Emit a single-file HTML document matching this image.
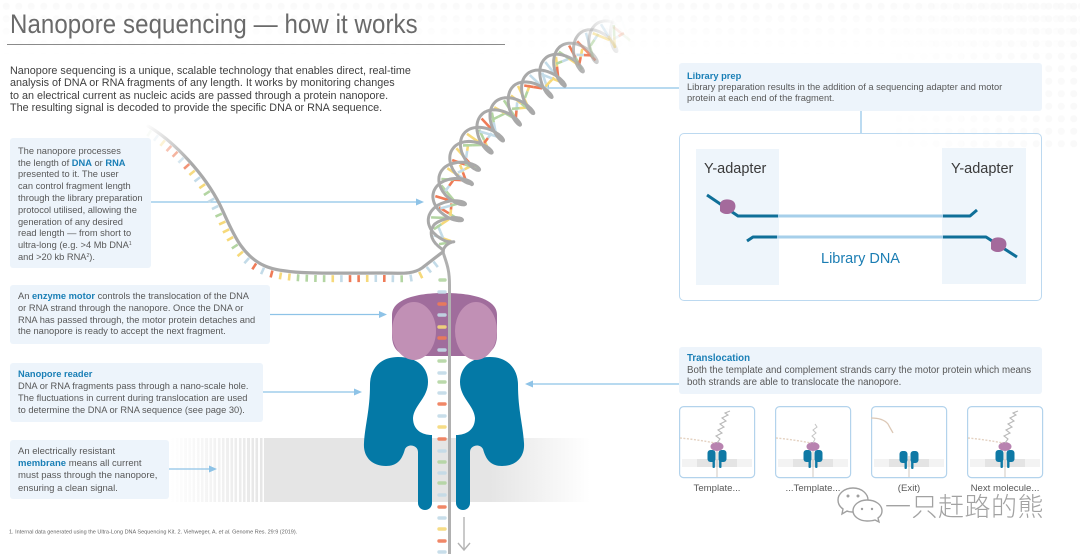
<!DOCTYPE html>
<html><head><meta charset="utf-8">
<style>
*{margin:0;padding:0;box-sizing:border-box}
html,body{width:1080px;height:554px;overflow:hidden;background:#fff}
body{position:relative;font-family:"Liberation Sans",Arial,sans-serif;color:#585858}
.abs{position:absolute}
.dots{background-image:radial-gradient(circle,#f5f5f5 3.2px,rgba(255,255,255,0) 3.8px);background-size:12.5px 12.5px}
.box{position:absolute;background:#edf4fb;border-radius:3px}
.t{position:absolute;white-space:nowrap}
.b{color:#1a7fb6;font-weight:bold}
sup{font-size:5px;line-height:0;vertical-align:3px}
</style></head><body>

<div class="abs dots" style="left:0;top:0;width:1080px;height:60px;-webkit-mask-image:linear-gradient(to bottom,rgba(0,0,0,.5),rgba(0,0,0,0));mask-image:linear-gradient(to bottom,rgba(0,0,0,.5),rgba(0,0,0,0))"></div>
<div class="abs dots" style="left:880px;top:0;width:200px;height:150px;-webkit-mask-image:linear-gradient(to left,rgba(0,0,0,.6),rgba(0,0,0,0));mask-image:linear-gradient(to left,rgba(0,0,0,.6),rgba(0,0,0,0))"></div>

<!-- title -->
<div class="t" style="left:10px;top:11px;font-size:27px;line-height:27px;color:#6a6a6a;transform:scaleX(0.89);transform-origin:left top;letter-spacing:0.1px">Nanopore sequencing — how it works</div>
<div class="abs" style="left:7px;top:44px;width:498px;height:1px;background:#8a8a8a"></div>

<div class="t" style="left:10px;top:65px;font-size:10.8px;line-height:12.3px;color:#3f3f3f">Nanopore sequencing is a unique, scalable technology that enables direct, real-time<br>analysis of DNA or RNA fragments of any length. It works by monitoring changes<br>to an electrical current as nucleic acids are passed through a protein nanopore.<br>The resulting signal is decoded to provide the specific DNA or RNA sequence.</div>

<!-- membrane band -->
<div class="abs" style="left:170px;top:438px;width:420px;height:64px;background:repeating-linear-gradient(90deg,rgba(255,255,255,.95) 0 1.6px,rgba(255,255,255,0) 1.6px 4.2px) 0 0/95px 100% no-repeat,linear-gradient(90deg,rgba(229,229,229,0) 0,#e5e5e5 95px,#e5e5e5 320px,rgba(229,229,229,0) 420px)"></div>

<!-- left boxes -->
<div class="box" style="left:10px;top:138px;width:141px;height:130px"></div>
<div class="t" style="left:18px;top:145.8px;font-size:9.3px;line-height:11.8px">The nanopore processes<br>the length of <span class="b">DNA</span> or <span class="b">RNA</span><br>presented to it. The user<br>can control fragment length<br>through the library preparation<br>protocol utilised, allowing the<br>generation of any desired<br>read length — from short to<br>ultra-long (e.g. &gt;4 Mb DNA<sup>1</sup><br>and &gt;20 kb RNA<sup>2</sup>).</div>

<div class="box" style="left:10px;top:285px;width:260px;height:59px"></div>
<div class="t" style="left:18px;top:291.2px;font-size:9.3px;line-height:11.7px">An <span class="b">enzyme motor</span> controls the translocation of the DNA<br>or RNA strand through the nanopore. Once the DNA or<br>RNA has passed through, the motor protein detaches and<br>the nanopore is ready to accept the next fragment.</div>

<div class="box" style="left:10px;top:363px;width:253px;height:59px"></div>
<div class="t" style="left:18px;top:368px;font-size:9.3px;line-height:12px"><span class="b">Nanopore reader</span><br>DNA or RNA fragments pass through a nano-scale hole.<br>The fluctuations in current during translocation are used<br>to determine the DNA or RNA sequence (see page 30).</div>

<div class="box" style="left:10px;top:440px;width:159px;height:59px"></div>
<div class="t" style="left:18px;top:445.9px;font-size:9.5px;line-height:12.2px">An electrically resistant<br><span class="b">membrane</span> means all current<br>must pass through the nanopore,<br>ensuring a clean signal.</div>

<div class="t" style="left:9px;top:529px;font-size:11px;line-height:12px;color:#666;transform:scale(0.5);transform-origin:left top">1. Internal data generated using the Ultra-Long DNA Sequencing Kit. 2. Viehweger, A. <i>et al.</i> Genome Res. 29:9 (2019).</div>

<!-- right boxes -->
<div class="box" style="left:679px;top:63px;width:363px;height:48px"></div>
<div class="t" style="left:687px;top:70.5px;font-size:9.3px;line-height:11px"><span class="b">Library prep</span><br>Library preparation results in the addition of a sequencing adapter and motor<br>protein at each end of the fragment.</div>

<div class="abs" style="left:679px;top:133px;width:363px;height:168px;border:1.5px solid #bcd9f0;border-radius:5px"></div>
<div class="abs" style="left:696px;top:149px;width:83px;height:136px;background:#eef5fb"></div>
<div class="abs" style="left:942px;top:148px;width:84px;height:136px;background:#eef5fb"></div>
<div class="t" style="left:704px;top:160px;font-size:14.5px;line-height:18px;color:#3a3a3a">Y-adapter</div>
<div class="t" style="left:951px;top:160px;font-size:14.5px;line-height:18px;color:#3a3a3a">Y-adapter</div>
<div class="t" style="left:821px;top:250px;font-size:14.5px;line-height:18px;color:#1b7db3">Library DNA</div>

<div class="box" style="left:679px;top:347px;width:363px;height:47px"></div>
<div class="t" style="left:687px;top:353px;font-size:9.7px;line-height:12px"><span class="b">Translocation</span><br>Both the template and complement strands carry the motor protein which means<br>both strands are able to translocate the nanopore.</div>

<div class="t" style="left:679px;top:483px;width:76px;text-align:center;font-size:9.6px;line-height:12px">Template...</div>
<div class="t" style="left:775px;top:483px;width:76px;text-align:center;font-size:9.6px;line-height:12px">...Template...</div>
<div class="t" style="left:871px;top:483px;width:76px;text-align:center;font-size:9.6px;line-height:12px">(Exit)</div>
<div class="t" style="left:963px;top:483px;width:84px;text-align:center;font-size:9.6px;line-height:12px">Next molecule...</div>

<svg class="abs" style="left:0;top:0" width="1080" height="554" viewBox="0 0 1080 554">
<defs>
<linearGradient id="tg" gradientUnits="userSpaceOnUse" x1="146" y1="124" x2="190" y2="165"><stop offset="0" stop-color="#a9a9a9" stop-opacity="0"/><stop offset="1" stop-color="#a9a9a9"/></linearGradient>
<linearGradient id="hg" gradientUnits="userSpaceOnUse" x1="565" y1="58" x2="620" y2="28"><stop offset="0" stop-color="#a9a9a9"/><stop offset="1" stop-color="#a9a9a9" stop-opacity="0"/></linearGradient>
</defs>

<!-- arrows -->
<g stroke="#8ec3e7" stroke-width="1.2" fill="none">
<line x1="151" y1="202" x2="417" y2="202"/>
<line x1="270" y1="314.5" x2="380" y2="314.5"/>
<line x1="263" y1="392" x2="355" y2="392"/>
<line x1="169" y1="469" x2="210" y2="469"/>
<line x1="679" y1="88" x2="548" y2="88"/>
<line x1="679" y1="384" x2="532" y2="384"/>
<line x1="861" y1="111" x2="861" y2="133"/>
</g>
<g fill="#8ec3e7">
<path d="M424 202 l-8 -3.5 v7z"/>
<path d="M387 314.5 l-8 -3.5 v7z"/>
<path d="M362 392 l-8 -3.5 v7z"/>
<path d="M217 469 l-8 -3.5 v7z"/>
<path d="M541 88 l8 -3.5 v7z"/>
<path d="M525 384 l8 -3.5 v7z"/>
</g>

<!-- dynamic under layer -->
<g id="under"></g>

<!-- pore (teal) -->
<g fill="#0479a6">
<path d="M398 357 C418 357 428 368 428 382 C428 398 414 405 413 418 C413 430 422 435 432 435 L432 503 A7 7 0 0 1 418 503 L418 452 C418 445 408 443 405 449 C402 460 397 466 386 466 C372 466 363 457 364 443 C365 425 370 410 370 385 C370 368 381 357 398 357 Z"/>
<path d="M398 357 C418 357 428 368 428 382 C428 398 414 405 413 418 C413 430 422 435 432 435 L432 503 A7 7 0 0 1 418 503 L418 452 C418 445 408 443 405 449 C402 460 397 466 386 466 C372 466 363 457 364 443 C365 425 370 410 370 385 C370 368 381 357 398 357 Z" transform="translate(888,0) scale(-1,1)"/>
</g>
<!-- motor protein -->
<path d="M392 315 C392 298 420 293 444 293 C470 293 497 298 497 315 L497 335 C497 350 488 356 475 356 L413 356 C400 356 392 350 392 335 Z" fill="#a06d9c"/>
<ellipse cx="414" cy="331" rx="22" ry="29" fill="#c190b5"/>
<ellipse cx="476" cy="331" rx="21" ry="29" fill="#c190b5"/>

<!-- pore bases -->
<g stroke-width="3.4" stroke-linecap="round" opacity="0.9">
<line x1="440" y1="280" x2="445" y2="280" stroke="#b3d5a2"/>
<line x1="439" y1="292" x2="445" y2="292" stroke="#c3dbe8"/>
<line x1="439" y1="304" x2="445" y2="304" stroke="#ef7b57"/>
<line x1="439" y1="315" x2="445" y2="315" stroke="#c3dbe8"/>
<line x1="439" y1="327" x2="445" y2="327" stroke="#f6d97a"/>
<line x1="439" y1="338" x2="445" y2="338" stroke="#ef7b57"/>
<line x1="439" y1="350" x2="445" y2="350" stroke="#c3dbe8"/>
<line x1="439" y1="361" x2="445" y2="361" stroke="#b3d5a2"/>
<line x1="439" y1="373" x2="445" y2="373" stroke="#c3dbe8"/>
<line x1="439" y1="382" x2="445" y2="382" stroke="#b3d5a2"/>
<line x1="439" y1="393" x2="445" y2="393" stroke="#c3dbe8"/>
<line x1="439" y1="404" x2="445" y2="404" stroke="#ef7b57"/>
<line x1="439" y1="416" x2="445" y2="416" stroke="#c3dbe8"/>
<line x1="439" y1="427" x2="445" y2="427" stroke="#f6d97a"/>
<line x1="439" y1="439" x2="445" y2="439" stroke="#ef7b57"/>
<line x1="439" y1="451" x2="445" y2="451" stroke="#c3dbe8"/>
<line x1="439" y1="462" x2="445" y2="462" stroke="#b3d5a2"/>
<line x1="439" y1="473" x2="445" y2="473" stroke="#c3dbe8"/>
<line x1="439" y1="483" x2="445" y2="483" stroke="#b3d5a2"/>
<line x1="439" y1="495" x2="445" y2="495" stroke="#c3dbe8"/>
<line x1="439" y1="507" x2="445" y2="507" stroke="#ef7b57"/>
<line x1="439" y1="518" x2="445" y2="518" stroke="#c3dbe8"/>
<line x1="439" y1="529" x2="445" y2="529" stroke="#f6d97a"/>
<line x1="439" y1="541" x2="445" y2="541" stroke="#ef7b57"/>
<line x1="439" y1="552" x2="445" y2="552" stroke="#c3dbe8"/>
</g>

<!-- strands -->
<path id="tail" d="M148 126 C175 142 205 175 220 205 C232 230 240 255 265 266 C285 275 330 273 380 273 C400 273 412 275 422 268 C430 262 437 256 443 252" fill="none" stroke="url(#tg)" stroke-width="3.2" stroke-linecap="round"/>
<path d="M443 252 C446 262 449.5 268 449.5 285 L449.5 554" fill="none" stroke="#b0b0b0" stroke-width="3"/>
<path id="axis" d="M443 252 C444 225 446 200 458 175 C470 145 500 120 528 96 C555 72 582 46 628 28" fill="none" stroke="none"/>
<g id="over"></g>

<!-- down arrow -->
<g stroke="#b3b3b3" stroke-width="1.4" fill="none">
<line x1="464" y1="517" x2="464" y2="550"/>
<polyline points="458,543 464,550 470,543"/>
</g>

<!-- library DNA diagram -->
<g fill="none" stroke-width="3" stroke-linejoin="round">
<line x1="778" y1="216" x2="943" y2="216" stroke="#a6cfea"/>
<line x1="777" y1="237" x2="943" y2="237" stroke="#a6cfea"/>
<polyline points="707,195 738,216 778,216" stroke="#0f6f98"/>
<polyline points="943,216 970,216 977,210" stroke="#0f6f98"/>
<polyline points="747,241 753,237 777,237" stroke="#0f6f98"/>
<polyline points="943,237 986,237 1017,257" stroke="#0f6f98"/>
</g>
<path d="M720 205 C720 199 728 198 733 201 C737 204 736 211 731 213 C728 215 722 214 720 211 Z" fill="#a46a9c"/>
<path d="M991 243 C991 237 999 236 1004 239 C1008 242 1007 249 1002 251 C999 253 993 252 991 249 Z" fill="#a46a9c"/>

<!-- thumbnails -->
<g transform="translate(679,406)">
<rect x="0.6" y="0.6" width="75" height="71" rx="4" fill="#fff" stroke="#b3d3ec" stroke-width="1.2"/>
<rect x="3" y="53" width="15" height="8" fill="#f3f3f3"/><rect x="18" y="53" width="40" height="8" fill="#e4e4e4"/><rect x="58" y="53" width="15" height="8" fill="#f3f3f3"/>
<line x1="38" y1="36" x2="38" y2="71" stroke="#d2c9c0" stroke-width="1"/>
<g fill="#0f79a5"><rect x="28.5" y="44" width="8" height="12" rx="3"/><rect x="33.5" y="50" width="2.4" height="12" rx="1"/><rect x="39.5" y="44" width="8" height="12" rx="3"/><rect x="40.1" y="50" width="2.4" height="12" rx="1"/></g>
<ellipse cx="38" cy="40.5" rx="6.5" ry="4.5" fill="#b883b0"/>
<path d="M1 32 C12 33 26 35 36 37" fill="none" stroke="#e4d2c2" stroke-width="1.4" stroke-dasharray="2 1.5"/>
<polyline points="38,37 41,33 37,30 43,27 39,24 45,21 41,18 47,15 43,12 49,9 46,7 51,5" fill="none" stroke="#b9b9b9" stroke-width="1.1"/>
</g>
<g transform="translate(775,406)">
<rect x="0.6" y="0.6" width="75" height="71" rx="4" fill="#fff" stroke="#b3d3ec" stroke-width="1.2"/>
<rect x="3" y="53" width="15" height="8" fill="#f3f3f3"/><rect x="18" y="53" width="40" height="8" fill="#e4e4e4"/><rect x="58" y="53" width="15" height="8" fill="#f3f3f3"/>
<line x1="38" y1="36" x2="38" y2="71" stroke="#d2c9c0" stroke-width="1"/>
<g fill="#0f79a5"><rect x="28.5" y="44" width="8" height="12" rx="3"/><rect x="33.5" y="50" width="2.4" height="12" rx="1"/><rect x="39.5" y="44" width="8" height="12" rx="3"/><rect x="40.1" y="50" width="2.4" height="12" rx="1"/></g>
<ellipse cx="38" cy="40.5" rx="6.5" ry="4.5" fill="#b883b0"/>
<path d="M1 32 C12 33 26 35 36 37" fill="none" stroke="#e4d2c2" stroke-width="1.4" stroke-dasharray="2 1.5"/>
<polyline points="38,37 40,33 37,30 41,27 38,24 42,21 40,18" fill="none" stroke="#c4c4c4" stroke-width="1"/>
</g>
<g transform="translate(871,406)">
<rect x="0.6" y="0.6" width="75" height="71" rx="4" fill="#fff" stroke="#b3d3ec" stroke-width="1.2"/>
<rect x="3" y="53" width="15" height="8" fill="#f3f3f3"/><rect x="18" y="53" width="40" height="8" fill="#e4e4e4"/><rect x="58" y="53" width="15" height="8" fill="#f3f3f3"/>
<line x1="38" y1="50" x2="38" y2="71" stroke="#d2c9c0" stroke-width="1"/>
<g fill="#0f79a5"><rect x="28.5" y="45" width="8" height="12" rx="3"/><rect x="33.5" y="51" width="2.4" height="12" rx="1"/><rect x="39.5" y="45" width="8" height="12" rx="3"/><rect x="40.1" y="51" width="2.4" height="12" rx="1"/></g>
<path d="M0 12 C6 12 13 13 17 18 C19 22 21 25 22 27" fill="none" stroke="#dcc8b6" stroke-width="1.3"/>
</g>
<g transform="translate(967,406)">
<rect x="0.6" y="0.6" width="75" height="71" rx="4" fill="#fff" stroke="#b3d3ec" stroke-width="1.2"/>
<rect x="3" y="53" width="15" height="8" fill="#f3f3f3"/><rect x="18" y="53" width="40" height="8" fill="#e4e4e4"/><rect x="58" y="53" width="15" height="8" fill="#f3f3f3"/>
<line x1="38" y1="36" x2="38" y2="71" stroke="#d2c9c0" stroke-width="1"/>
<g fill="#0f79a5"><rect x="28.5" y="44" width="8" height="12" rx="3"/><rect x="33.5" y="50" width="2.4" height="12" rx="1"/><rect x="39.5" y="44" width="8" height="12" rx="3"/><rect x="40.1" y="50" width="2.4" height="12" rx="1"/></g>
<ellipse cx="38" cy="40.5" rx="6.5" ry="4.5" fill="#b883b0"/>
<path d="M1 32 C12 33 26 35 36 37" fill="none" stroke="#e4d2c2" stroke-width="1.4" stroke-dasharray="2 1.5"/>
<polyline points="38,37 41,33 37,30 43,27 39,24 45,21 41,18 47,15 43,12 49,9 46,7 51,5" fill="none" stroke="#b9b9b9" stroke-width="1.1"/>
</g>

<!-- wechat icon -->
<g fill="#fff" stroke="#a0a0a0" stroke-width="1.4">
<path d="M853 488 C844 488 838 494 838 500 C838 504 840 507 843 509 L842 514 L847 511 C849 512 851 512 853 512 C862 512 868 506 868 500 C868 494 862 488 853 488 Z"/>
<path d="M867 500 C876 500 882 505 882 511 C882 514 881 516 878 518 L879 522 L875 520 C872 521 870 521 867 521 C859 521 853 516 853 511 C853 505 859 500 867 500 Z"/>
</g>
<g fill="#a0a0a0"><circle cx="848" cy="496" r="1.5"/><circle cx="858" cy="496" r="1.5"/><circle cx="862" cy="509" r="1.2"/><circle cx="872" cy="509" r="1.2"/></g>
</svg>

<div class="t" style="left:885px;top:492px;font-size:26px;line-height:30px;color:#a2a2a2;font-family:'Liberation Sans','Noto Sans CJK SC',sans-serif;font-weight:300;letter-spacing:0.5px">一只赶路的熊</div>

<script>
(function(){
var NS='http://www.w3.org/2000/svg';
var under=document.getElementById('under'),over=document.getElementById('over');
var C=['#ef7b57','#f6d97a','#b3d5a2','#c3dbe8'];
function mk(p,t,a){var e=document.createElementNS(NS,t);for(var k in a)e.setAttribute(k,a[k]);p.appendChild(e);return e;}
var seed=11;function rnd(){seed=(seed*9301+49297)%233280;return seed/233280;}
function frame(path,L,s){var p=path.getPointAtLength(s),q=path.getPointAtLength(Math.min(L,s+0.6)),r=path.getPointAtLength(Math.max(0,s-0.6));var tx=q.x-r.x,ty=q.y-r.y,m=Math.hypot(tx,ty)||1;return [p.x,p.y,tx/m,ty/m];}
// tail ticks
var tail=document.getElementById('tail'),TL=tail.getTotalLength();
for(var s=5;s<TL-10;s+=8.6){var f=frame(tail,TL,s),nx=-f[3],ny=f[2];
 mk(under,'line',{x1:f[0]+nx*2,y1:f[1]+ny*2,x2:f[0]+nx*9,y2:f[1]+ny*9,stroke:C[Math.floor(rnd()*4)],'stroke-width':2.6,opacity:Math.min(1,s/70)});}
// helix
var ax=document.getElementById('axis'),AL=ax.getTotalLength();
var A=17,B=9,P=42,d2=Math.PI*0.85,pa=[],pb=[];
for(var s2=0;s2<=AL;s2+=0.8){var g=frame(ax,AL,s2),nx2=-g[3],ny2=g[2],env=Math.min(1,s2/20),ph=2*Math.PI*s2/P;
 var a1=A*env*Math.sin(ph),b1=B*env*Math.cos(ph),a2=A*env*Math.sin(ph+d2),b2=B*env*Math.cos(ph+d2);
 pa.push([g[0]+nx2*a1+g[2]*b1,g[1]+ny2*a1+g[3]*b1,s2]);pb.push([g[0]+nx2*a2+g[2]*b2,g[1]+ny2*a2+g[3]*b2,s2]);}
for(var i=12;i<pa.length;i+=7){var A1=pa[i],B1=pb[i],mx=(A1[0]+B1[0])/2,my=(A1[1]+B1[1])/2;
 var dx=B1[0]-A1[0],dy=B1[1]-A1[1],dl=Math.hypot(dx,dy);if(dl<8)continue;var ux=dx/dl,uy=dy/dl;
 var op=Math.max(0,Math.min(1,(AL-A1[2])/55));
 mk(under,'line',{x1:A1[0]+ux*2.5,y1:A1[1]+uy*2.5,x2:mx,y2:my,stroke:C[Math.floor(rnd()*4)],'stroke-width':2.6,opacity:op});
 mk(under,'line',{x1:mx,y1:my,x2:B1[0]-ux*2.5,y2:B1[1]-uy*2.5,stroke:C[Math.floor(rnd()*4)],'stroke-width':2.6,opacity:op});}
function pl(arr){return arr.map(function(p){return p[0].toFixed(1)+','+p[1].toFixed(1);}).join(' ');}
mk(over,'polyline',{points:pl(pa),fill:'none',stroke:'url(#hg)','stroke-width':3,'stroke-linejoin':'round','stroke-linecap':'round'});
mk(over,'polyline',{points:pl(pb),fill:'none',stroke:'url(#hg)','stroke-width':3,'stroke-linejoin':'round','stroke-linecap':'round'});
})();
</script>
</body></html>
